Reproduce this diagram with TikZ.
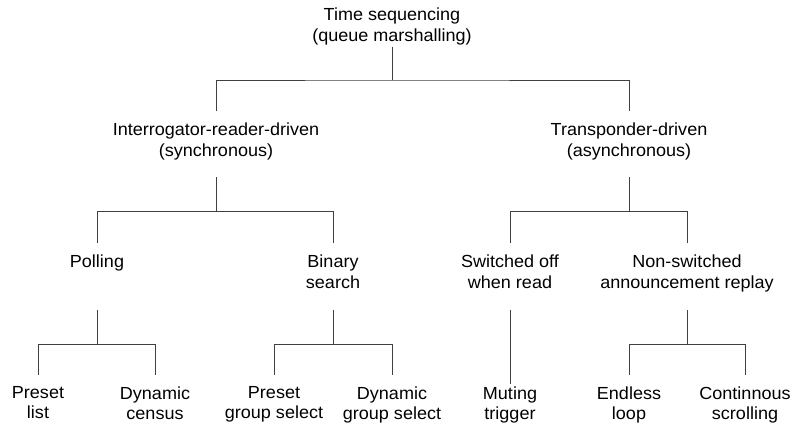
\documentclass[tikz,border=0pt]{standalone}
\usepackage{fontspec}
\setmainfont{Liberation Sans}[FakeStretch=1.03]

\begin{document}
\begin{tikzpicture}[x=1pt, y=1pt, line width=0.8pt,
    lbl/.style={anchor=north, align=center, inner sep=0pt, font=\fontsize{17.5}{20.5}\selectfont},
    branch/.style={draw=black!75}]
    \useasboundingbox (0,0) rectangle (792,425);

    % Nodes
    \node [lbl] (root) at (392,417.5) {Time sequencing\\(queue marshalling)};
    \node [lbl] (sync) at (216,302.5) {Interrogator-reader-driven\\(synchronous)};
    \node [lbl] (async) at (629,302.5) {Transponder-driven\\(asynchronous)};
    \node [lbl] (poll) at (97,170.5) {Polling};
    \node [lbl] (binsrch) at (333,170.5) {Binary\\search};
    \node [lbl] (swoff) at (510,170.5) {Switched off\\when read};
    \node [lbl] (nonsw) at (687,170.5) {Non-switched\\announcement replay};
    \node [lbl] (plist) at (38,39) {Preset\\list};
    \node [lbl] (dcensus) at (155,39) {Dynamic\\census};
    \node [lbl] (pgroup) at (274,39) {Preset\\group select};
    \node [lbl] (dgroup) at (392,39) {Dynamic\\group select};
    \node [lbl] (muting) at (510,39) {Muting\\trigger};
    \node [lbl] (endless) at (629,39) {Endless\\loop};
    \node [lbl] (scroll) at (745,39) {Continnous\\scrolling};

    % Connectors
    \draw [branch] ([yshift=-39.5pt]root.north) -- ++(0,-33) coordinate (j0);
    \draw [branch] ([yshift=11pt]sync.north) |- (j0) -| ([yshift=11pt]async.north);

    \draw [branch] ([yshift=-55pt]sync.north) -- ++(0,-34) coordinate (j1);
    \draw [branch] ([yshift=11pt]poll.north) |- (j1) -| ([yshift=11pt]binsrch.north);
    \draw [branch] ([yshift=-55pt]async.north) -- ++(0,-34) coordinate (j2);
    \draw [branch] ([yshift=11pt]swoff.north) |- (j2) -| ([yshift=11pt]nonsw.north);

    \draw [branch] ([yshift=-56pt]poll.north) -- ++(0,-34) coordinate (j3);
    \draw [branch] ([yshift=11pt]plist.north) |- (j3) -| ([yshift=11pt]dcensus.north);
    \draw [branch] ([yshift=-56pt]binsrch.north) -- ++(0,-34) coordinate (j4);
    \draw [branch] ([yshift=11pt]pgroup.north) |- (j4) -| ([yshift=11pt]dgroup.north);
    \draw [branch] ([yshift=-56pt]swoff.north) -- ([yshift=2pt]muting.north);
    \draw [branch] ([yshift=-56pt]nonsw.north) -- ++(0,-34) coordinate (j5);
    \draw [branch] ([yshift=11pt]endless.north) |- (j5) -| ([yshift=11pt]scroll.north);

\end{tikzpicture}
\end{document}
